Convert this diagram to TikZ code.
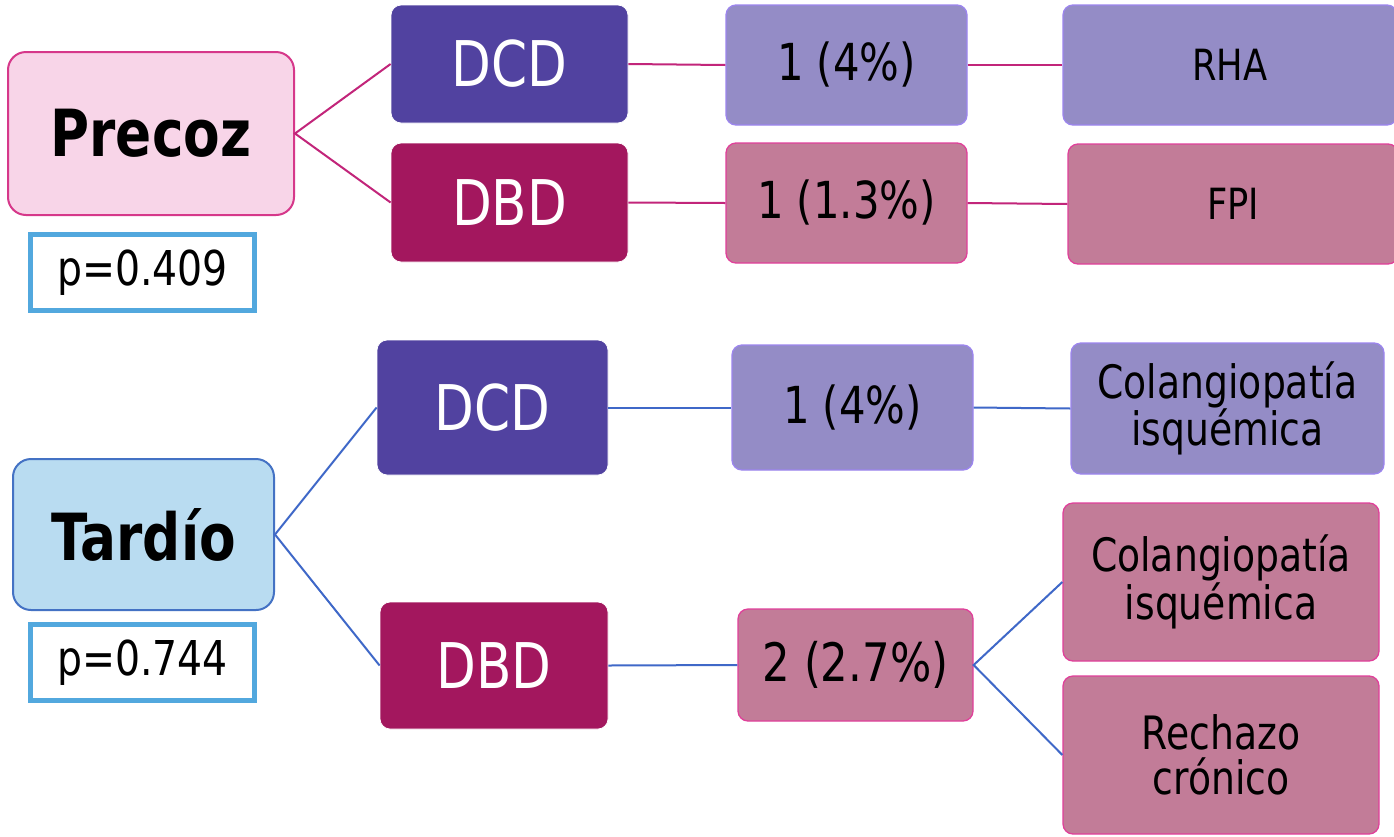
\documentclass[tikz,border=0pt]{standalone}
\usepackage{fontspec}
\setmainfont{DejaVu Sans}[FakeStretch=0.82]
\definecolor{dcdfill}{HTML}{5142A0}
\definecolor{dbdfill}{HTML}{A3175E}
\definecolor{lavfill}{HTML}{948CC6}
\definecolor{lavline}{HTML}{9C85EE}
\definecolor{mauvefill}{HTML}{C27C98}
\definecolor{mauveline}{HTML}{E0409A}
\definecolor{precozfill}{HTML}{F8D5E8}
\definecolor{precozline}{HTML}{D6388A}
\definecolor{tardiofill}{HTML}{B9DCF1}
\definecolor{tardioline}{HTML}{4472C4}
\definecolor{pline}{HTML}{52A8DE}
\definecolor{topconn}{HTML}{C2257A}
\definecolor{botconn}{HTML}{3F68C8}
\tikzset{
  box/.style={rectangle, rounded corners=10pt, inner sep=0pt, align=center},
  donor/.style={box, text=white, draw=white, line width=0.8pt, font=\fontsize{63}{66}\selectfont},
  dcdbox/.style={donor, fill=dcdfill},
  dbdbox/.style={donor, fill=dbdfill},
  lavbox/.style={box, fill=lavfill, draw=lavline, line width=1.3pt},
  mauvebox/.style={box, fill=mauvefill, draw=mauveline, line width=1.3pt},
  countfont/.style={font=\fontsize{51}{54}\selectfont},
  causefont/.style={font=\fontsize{43}{44}\selectfont},
  twofont/.style={font=\fontsize{46}{45}\selectfont},
  phase/.style={box, rounded corners=18pt, line width=2pt, font=\bfseries\fontsize{65}{68}\selectfont},
  pbox/.style={rectangle, draw=pline, fill=white, line width=5pt, inner sep=0pt, font=\fontsize{48}{52}\selectfont},
  topline/.style={draw=topconn, line width=2pt},
  botline/.style={draw=botconn, line width=2pt},
}
\begin{document}
\begin{tikzpicture}[x=1pt, y=-1pt]
\useasboundingbox (0,0) rectangle (1394,836);
\fill[white] (0,0) rectangle (1394,836);
% upper branch
\node[phase, fill=precozfill, draw=precozline, minimum width=286, minimum height=163] (precoz) at (151,133.5) {Precoz};
\node[pbox, minimum width=224, minimum height=76] (p1) at (142.5,272.5) {p=0.409};
\node[dcdbox, minimum width=237, minimum height=118] (dcdA) at (509.5,64) {DCD};
\node[dbdbox, minimum width=237, minimum height=119] (dbdA) at (509.5,202.5) {DBD};
\node[lavbox, countfont, minimum width=241, minimum height=120] (cA) at (846.5,65) {1 (4\%)};
\node[lavbox, causefont, minimum width=334, minimum height=120] (rha) at (1230,65) {RHA};
\node[mauvebox, countfont, minimum width=241, minimum height=120] (cB) at (846.5,203) {1 (1.3\%)};
\node[mauvebox, causefont, minimum width=330, minimum height=120] (fpi) at (1233,204) {FPI};
\draw[topline] (dcdA.west) -- (precoz.east) -- (dbdA.west);
\draw[topline] (dcdA.east) -- (cA.west);
\draw[topline] (cA.east) -- (rha.west);
\draw[topline] (dbdA.east) -- (cB.west);
\draw[topline] (cB.east) -- (fpi.west);
% lower branch
\node[phase, fill=tardiofill, draw=tardioline, minimum width=261, minimum height=151] (tardio) at (143.5,534.5) {Tardío};
\node[pbox, minimum width=224, minimum height=76] (p2) at (142.5,662.5) {p=0.744};
\node[dcdbox, minimum width=231, minimum height=135] (dcdB) at (492.5,407.5) {DCD};
\node[dbdbox, minimum width=228, minimum height=127] (dbdB) at (494,665.5) {DBD};
\node[lavbox, countfont, minimum width=241, minimum height=125] (cC) at (852.5,407.5) {1 (4\%)};
\node[lavbox, twofont, minimum width=313, minimum height=131] (colA) at (1227.5,408.5) {Colangiopatía\\isquémica};
\node[mauvebox, font=\fontsize{53}{56}\selectfont, minimum width=235, minimum height=112] (cD) at (855.5,665) {2 (2.7\%)};
\node[mauvebox, twofont, minimum width=316, minimum height=158] (colB) at (1221,582) {Colangiopatía\\isquémica};
\node[mauvebox, twofont, minimum width=316, minimum height=158] (rech) at (1221,755) {Rechazo\\crónico};
\draw[botline] (dcdB.west) -- (tardio.east) -- (dbdB.west);
\draw[botline] (dcdB.east) -- (cC.west);
\draw[botline] (cC.east) -- (colA.west);
\draw[botline] (dbdB.east) -- (cD.west);
\draw[botline] (colB.west) -- (cD.east) -- (rech.west);
\end{tikzpicture}
\end{document}
